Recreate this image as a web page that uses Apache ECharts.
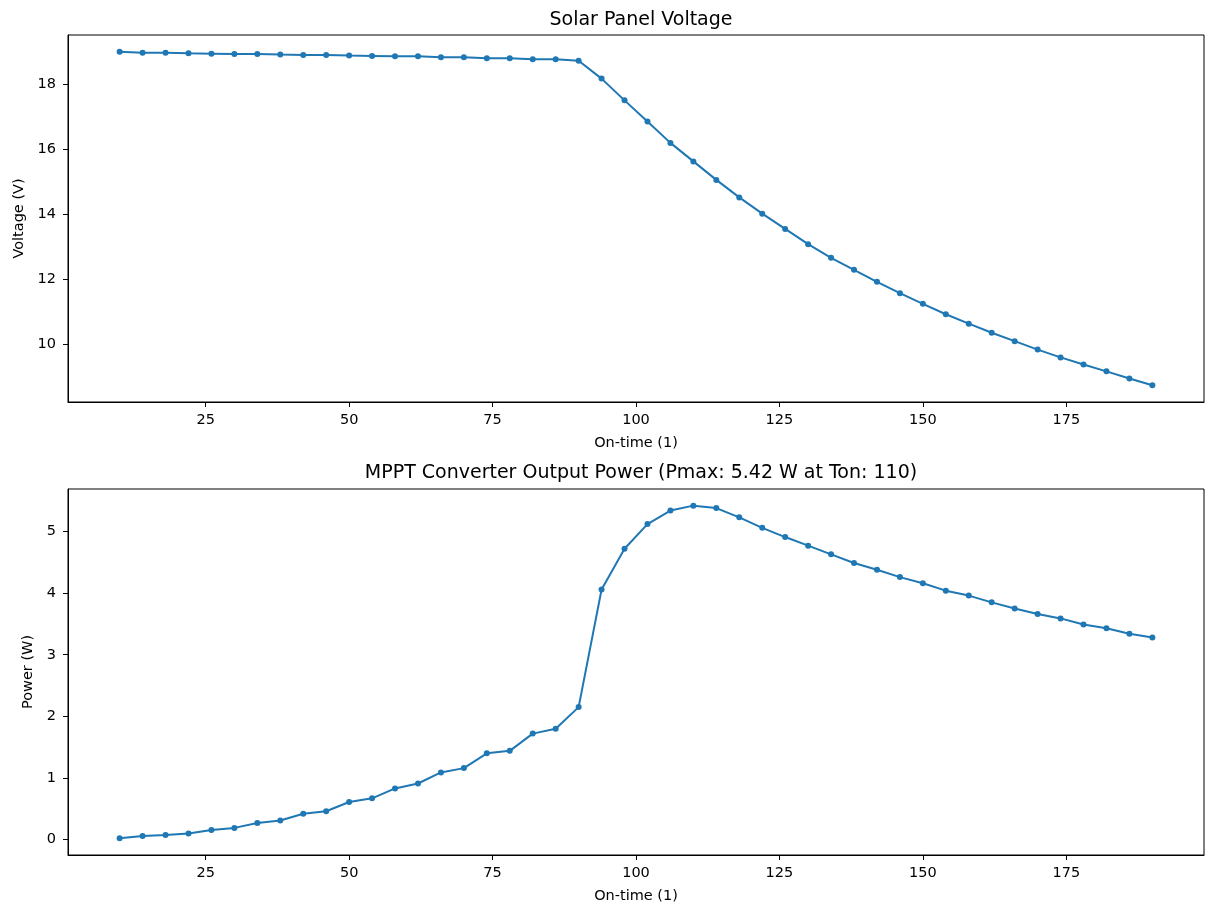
<!DOCTYPE html>
<html>
<head>
<meta charset="utf-8">
<script src="https://cdn.jsdelivr.net/npm/echarts@6/dist/echarts.min.js"></script>
<style>
html,body{margin:0;padding:0;background:#fff;}
#chart{width:1205px;height:908px;}
</style>
</head>
<body>
<div id="chart"></div>
<script>
const onTime = [10,14,18,22,26,30,34,38,42,46,50,54,58,62,66,70,74,78,82,86,90,94,98,102,106,110,114,118,122,126,130,134,138,142,146,150,154,158,162,166,170,174,178,182,186,190];
const voltage = [19.00,18.97,18.97,18.95,18.94,18.93,18.93,18.91,18.90,18.90,18.88,18.87,18.86,18.86,18.83,18.83,18.80,18.80,18.77,18.77,18.72,
  18.17,17.50,16.85,16.19,15.62,15.05,14.51,14.01,13.54,13.07,12.65,12.28,11.91,11.56,11.23,10.91,10.62,10.34,10.08,9.82,9.58,9.36,9.15,8.93,8.72];
const power = [0.02,0.06,0.075,0.10,0.156,0.19,0.27,0.31,0.42,0.46,0.61,0.67,0.83,0.91,1.09,1.16,1.40,1.44,1.72,1.80,2.15,
  4.06,4.72,5.12,5.34,5.42,5.38,5.23,5.06,4.91,4.77,4.63,4.49,4.38,4.26,4.16,4.04,3.96,3.85,3.75,3.66,3.59,3.49,3.43,3.34,3.28];
const xTicks = [25,50,75,100,125,150,175];
const voltageTicks = [10,12,14,16,18];
const powerTicks = [0,1,2,3,4,5];
const titleTop = 'Solar Panel Voltage';
const titleBottom = 'MPPT Converter Output Power (Pmax: 5.42 W at Ton: 110)';
const xName = 'On-time (1)';
const voltageName = 'Voltage (V)';
const powerName = 'Power (W)';

function padRange(arr){
  const lo = Math.min(...arr), hi = Math.max(...arr), m = (hi-lo)*0.05;
  return [lo-m, hi+m];
}
const xr = padRange(onTime), vr = padRange(voltage), pr = padRange(power);
const FONT = 'DejaVu Sans';
const txt = {color:'#000', fontFamily:FONT, fontSize:14.5};
const GRID_LEFT = 68, GRID_W = 1136;

function xAxisDef(idx){
  return {
    type:'value', gridIndex:idx, min:xr[0], max:xr[1],
    name:xName, nameLocation:'middle', nameGap:34, nameTextStyle:Object.assign({},txt),
    axisLine:{show:true, onZero:false, lineStyle:{color:'#000', width:1}},
    axisTick:{show:true, length:5, lineStyle:{color:'#000'}, customValues:xTicks},
    axisLabel:Object.assign({customValues:xTicks, margin:11}, txt),
    splitLine:{show:false}
  };
}
function yAxisDef(idx, r, ticks, name, gap){
  return {
    type:'value', gridIndex:idx, min:r[0], max:r[1],
    name:name, nameLocation:'middle', nameGap:gap, nameTextStyle:Object.assign({},txt),
    axisLine:{show:true, onZero:false, lineStyle:{color:'#000', width:1}},
    axisTick:{show:true, length:5, lineStyle:{color:'#000'}, customValues:ticks},
    axisLabel:Object.assign({customValues:ticks, margin:12}, txt),
    splitLine:{show:false}
  };
}
const lineStyle = {color:'#1f77b4', width:2};
const chart = echarts.init(document.getElementById('chart'), null, {renderer:'canvas'});
chart.setOption({
  animation:false,
  backgroundColor:'#fff',
  title:[
    {text:titleTop, left:GRID_LEFT + GRID_W/2, textAlign:'center', top:6, textStyle:{color:'#000', fontFamily:FONT, fontSize:19, fontWeight:'normal'}},
    {text:titleBottom, left:GRID_LEFT + GRID_W/2, textAlign:'center', top:459, textStyle:{color:'#000', fontFamily:FONT, fontSize:19, fontWeight:'normal'}}
  ],
  grid:[
    {left:GRID_LEFT, top:35, width:GRID_W, height:367, show:true, borderColor:'#000', borderWidth:1, backgroundColor:'transparent'},
    {left:GRID_LEFT, top:489, width:GRID_W, height:366, show:true, borderColor:'#000', borderWidth:1, backgroundColor:'transparent'}
  ],
  xAxis:[xAxisDef(0), xAxisDef(1)],
  yAxis:[yAxisDef(0, vr, voltageTicks, voltageName, 41), yAxisDef(1, pr, powerTicks, powerName, 31)],
  series:[
    {type:'line', xAxisIndex:0, yAxisIndex:0, data:onTime.map((x,i)=>[x, voltage[i]]),
     symbol:'circle', symbolSize:6, showAllSymbol:true, lineStyle:lineStyle, itemStyle:{color:'#1f77b4'}},
    {type:'line', xAxisIndex:1, yAxisIndex:1, data:onTime.map((x,i)=>[x, power[i]]),
     symbol:'circle', symbolSize:6, showAllSymbol:true, lineStyle:lineStyle, itemStyle:{color:'#1f77b4'}}
  ]
});
</script>
</body>
</html>
